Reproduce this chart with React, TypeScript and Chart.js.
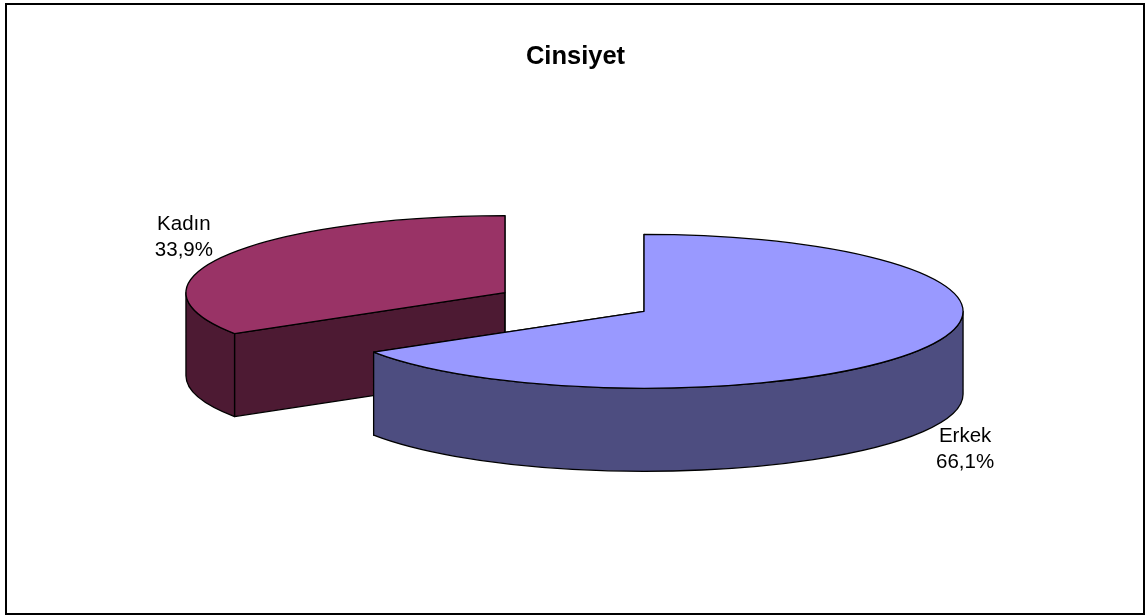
import React, { useEffect, useRef } from "react";
import { Chart, registerables } from "chart.js";

Chart.register(...registerables);

const categories = ["Erkek", "Kadın"];
const shares = [66.1, 33.9];
const shareLabels = ["66,1%", "33,9%"];
const topColors = ["#9999FF", "#993366"];
const wallColors = ["#4D4D80", "#4D1A33"];
const chartTitle = "Cinsiyet";

const RADIUS = 319;
const SQUASH = 77 / 319;
const DEPTH = 83;
const EXPLODE = 79.5;
const CENTER_X = 574.5;
const CENTER_Y = 302;
const LINE = 1.3;
const LABEL_FONT = '20.5px "Liberation Sans", Arial, sans-serif';

const pie3d = {
  id: "pie3d",
  beforeDatasetsDraw(chart: any) {
    const ctx: CanvasRenderingContext2D = chart.ctx;
    const arcs = chart.getDatasetMeta(0).data;
    const geom = arcs.map((a: any) => {
      const mid = (a.startAngle + a.endAngle) / 2;
      return {
        a,
        mid,
        cx: CENTER_X + Math.cos(mid) * EXPLODE,
        cy: CENTER_Y + Math.sin(mid) * EXPLODE * SQUASH,
      };
    });
    // back to front: the slice further up the picture first
    const order = geom.map((_: any, i: number) => i).sort((i: number, j: number) => geom[i].cy - geom[j].cy);
    ctx.save();
    ctx.lineWidth = LINE;
    ctx.strokeStyle = "#000";
    ctx.lineJoin = "round";
    for (const i of order) {
      const { a, cx, cy, mid } = geom[i];
      const r = a.outerRadius;
      ctx.fillStyle = wallColors[i];
      // cut faces
      for (const ang of [a.startAngle, a.endAngle]) {
        const ex = cx + Math.cos(ang) * r;
        const ey = cy + Math.sin(ang) * r * SQUASH;
        ctx.beginPath();
        ctx.moveTo(cx, cy);
        ctx.lineTo(ex, ey);
        ctx.lineTo(ex, ey + DEPTH);
        ctx.lineTo(cx, cy + DEPTH);
        ctx.closePath();
        ctx.fill();
        ctx.stroke();
      }
      // outer wall, the part facing the viewer
      const from = Math.max(a.startAngle, 0);
      const to = Math.min(a.endAngle, Math.PI);
      if (to > from) {
        ctx.beginPath();
        ctx.ellipse(cx, cy, r, r * SQUASH, 0, from, to);
        ctx.lineTo(cx + Math.cos(to) * r, cy + Math.sin(to) * r * SQUASH + DEPTH);
        ctx.ellipse(cx, cy + DEPTH, r, r * SQUASH, 0, to, from, true);
        ctx.closePath();
        ctx.fill();
        ctx.stroke();
      }
      // top face: the library's own arc element, squashed and moved
      ctx.save();
      ctx.translate(cx, cy);
      ctx.scale(1, SQUASH);
      ctx.translate(-a.x, -a.y);
      a.draw(ctx);
      ctx.restore();
      ctx.beginPath();
      ctx.moveTo(cx, cy);
      ctx.ellipse(cx, cy, r, r * SQUASH, 0, a.startAngle, a.endAngle);
      ctx.closePath();
      ctx.stroke();
      // data label just outside the slice's middle
      const sx = Math.cos(mid) >= 0 ? 1 : -1;
      const front = Math.sin(mid) > 0;
      const lx = cx + Math.cos(mid) * r + sx * 42;
      const ly = cy + Math.sin(mid) * r * SQUASH + (front ? DEPTH + 17.5 : -18);
      ctx.fillStyle = "#000";
      ctx.font = LABEL_FONT;
      ctx.textAlign = "center";
      ctx.textBaseline = "middle";
      ctx.fillText(categories[i], lx, ly - 13);
      ctx.fillText(shareLabels[i], lx, ly + 13);
    }
    ctx.restore();
    return false;
  },
  afterDraw(chart: any) {
    const ctx: CanvasRenderingContext2D = chart.ctx;
    ctx.save();
    ctx.lineWidth = 2;
    ctx.strokeStyle = "#000";
    ctx.strokeRect(6, 4, 1138, 610);
    ctx.restore();
  },
};

export default function App() {
  const ref = useRef<HTMLCanvasElement>(null);
  useEffect(() => {
    document.body.style.margin = "0";
    const chart = new Chart(ref.current!, {
      type: "pie",
      data: {
        labels: categories,
        datasets: [
          {
            data: shares,
            backgroundColor: topColors,
            borderWidth: 0,
            clip: false,
          } as any,
        ],
      },
      options: {
        responsive: false,
        animation: false,
        radius: RADIUS,
        layout: { padding: { top: 36, left: 5 } },
        plugins: {
          legend: { display: false },
          tooltip: { enabled: false },
          title: {
            display: true,
            text: chartTitle,
            color: "#000",
            font: { family: '"Liberation Sans", Arial, sans-serif', size: 25.5, weight: "bold" },
            padding: { top: 6, bottom: 0 },
          },
        },
      } as any,
      plugins: [pie3d],
    });
    return () => chart.destroy();
  }, []);
  return (
    <div style={{ width: 1146, height: 615 }}>
      <canvas ref={ref} width={1146} height={615} style={{ display: "block", background: "#fff" }} />
    </div>
  );
}
